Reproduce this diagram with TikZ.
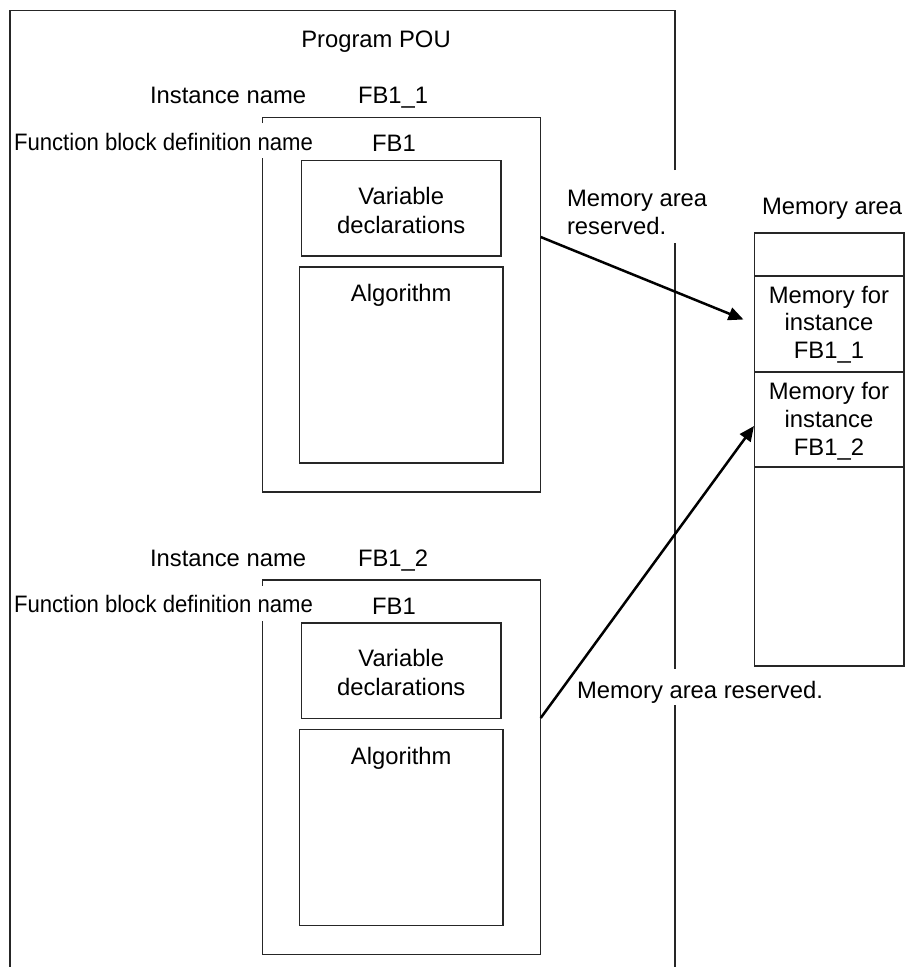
\documentclass[tikz,border=0pt]{standalone}
\usepackage{fontspec}
\setmainfont{Liberation Sans}
\usetikzlibrary{arrows.meta}
\begin{document}
\begin{tikzpicture}[x=1pt,y=-1pt,
  ln/.style={line width=1.2pt,draw=black!85},
  box/.style={ln,rectangle,inner sep=0pt,outer sep=0pt,anchor=north west},
  txt/.style={font=\fontsize{23.8pt}{28pt}\selectfont,inner sep=0pt,outer sep=0pt,anchor=base west},
  ctxt/.style={txt,anchor=base},
  arr/.style={line width=2.5pt,-{Triangle[length=15pt,width=13pt]}}]
\useasboundingbox (0,0) rectangle (905,967);
% Program POU frame (open at bottom, gaps for labels)
\draw[ln] (675,170) -- (675,10.7) -- (10,10.7) -- (10,975);
\draw[ln] (675,243) -- (675,669);
\draw[ln] (675,705) -- (675,975);
\node[ctxt] (pou) at (376,47.3) {Program POU};
% ---------- instance FB1_1 ----------
\node[txt] (in1) at (150,103) {Instance name};
\node[txt] (iv1) at (358,103) {FB1\_1};
\draw[ln] (262.5,123) -- (262.5,117.5) -- (540.7,117.5) -- (540.7,492) -- (262.5,492) -- (262.5,158);
\coordinate (fb1e) at (540.7,237);
\node[txt,xscale=0.93] (fd1) at (14,150) {Function block definition name};
\node[ctxt] (fn1) at (394,151.7) {FB1};
\node[box,minimum width=199.5pt,minimum height=95.5pt] (vd1) at (301.5,160.5) {};
\node[ctxt] (vd1a) at (401.25,204) {Variable};
\node[ctxt] (vd1b) at (401.25,233) {declarations};
\node[box,minimum width=203.5pt,minimum height=196pt] (al1) at (299.5,267) {};
\node[ctxt] (al1t) at (401.25,301.5) {Algorithm};
% ---------- instance FB1_2 ----------
\node[txt] (in2) at (150,566) {Instance name};
\node[txt] (iv2) at (358,566) {FB1\_2};
\draw[ln] (262.5,585.5) -- (262.5,580) -- (540.7,580) -- (540.7,954.5) -- (262.5,954.5) -- (262.5,620.5);
\coordinate (fb2e) at (540.7,718);
\node[txt,xscale=0.93] (fd2) at (14,612.5) {Function block definition name};
\node[ctxt] (fn2) at (394,614.2) {FB1};
\node[box,minimum width=199.5pt,minimum height=95.5pt] (vd2) at (301.5,623) {};
\node[ctxt] (vd2a) at (401.25,666.5) {Variable};
\node[ctxt] (vd2b) at (401.25,695.5) {declarations};
\node[box,minimum width=203.5pt,minimum height=196pt] (al2) at (299.5,729.5) {};
\node[ctxt] (al2t) at (401.25,764) {Algorithm};
% ---------- memory area ----------
\node[txt] (mal) at (762,214) {Memory area};
\node[box,minimum width=149.7pt,minimum height=43pt] (m0) at (754.3,233) {};
\node[box,minimum width=149.7pt,minimum height=96pt] (m1) at (754.3,276) {};
\node[box,minimum width=149.7pt,minimum height=95pt] (m2) at (754.3,372) {};
\node[box,minimum width=149.7pt,minimum height=199pt] (m3) at (754.3,467) {};
\node[ctxt] (m1a) at (829,303) {Memory for};
\node[ctxt] (m1b) at (829,330.5) {instance};
\node[ctxt] (m1c) at (829,358.5) {FB1\_1};
\node[ctxt] (m2a) at (829,399.5) {Memory for};
\node[ctxt] (m2b) at (829,427) {instance};
\node[ctxt] (m2c) at (829,455) {FB1\_2};
% ---------- arrows and their labels ----------
\node[txt] (r1a) at (567,206) {Memory area};
\node[txt] (r1b) at (567,234) {reserved.};
\node[txt] (r2) at (577,698.3) {Memory area reserved.};
\coordinate (t1) at (743.5,319.5);
\coordinate (t2) at (754,426);
\draw[arr] (fb1e) -- (t1);
\draw[arr] (fb2e) -- (t2);
\end{tikzpicture}
\end{document}
